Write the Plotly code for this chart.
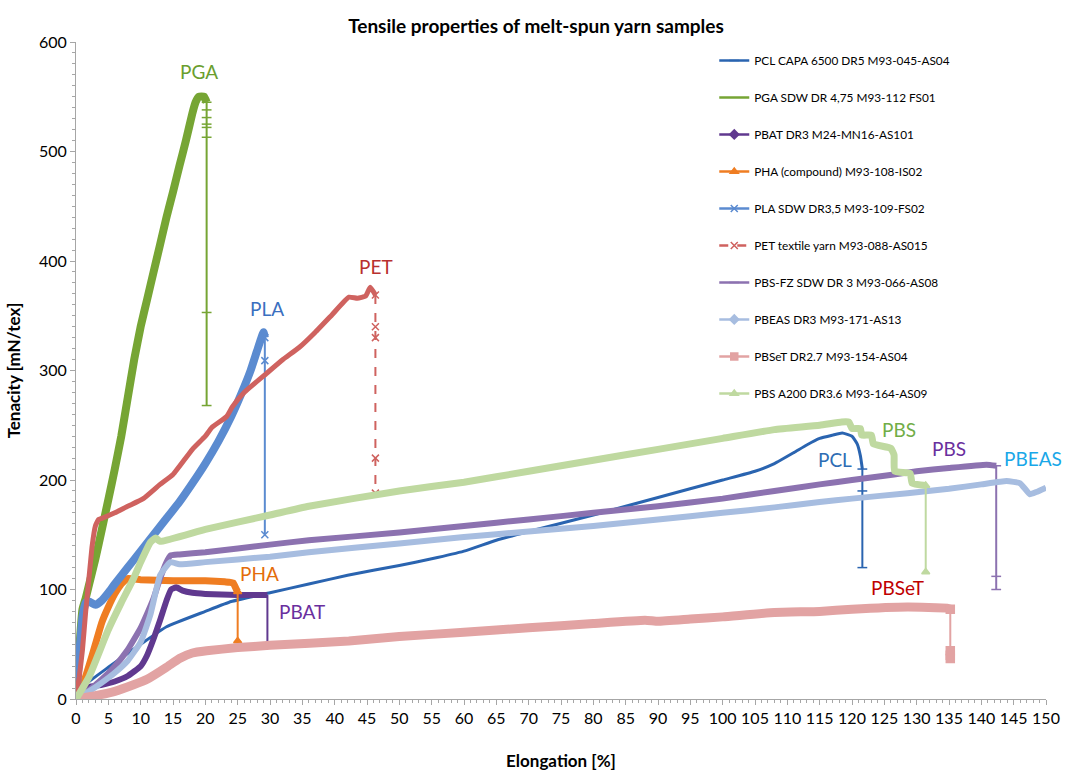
import plotly.graph_objects as go

# ---- stress-strain data (elongation %, tenacity mN/tex) ----
pcl_x = [0, 1, 5, 10, 14, 20, 24, 30, 36, 42, 50, 55, 60, 65, 70, 80, 90, 100, 105, 108, 111, 113, 115, 117, 118.5, 120, 120.8, 121.3, 121.6]
pcl_y = [0, 11, 29, 50, 66, 80, 89, 97, 105, 113, 122, 128, 135, 145, 153, 168, 184, 200, 208, 215, 225, 232, 238, 241, 243, 240, 233, 222, 210]
pcl_break_y = [210, 190, 120]

pga_x = [0, 0.5, 1, 1.5, 2, 3, 4, 5, 6, 7, 8, 9, 10, 11, 12, 13, 14, 15, 16, 17, 18, 18.5, 19, 19.8, 20.2]
pga_y = [0, 45, 82, 92, 104, 128, 155, 182, 210, 240, 275, 310, 340, 365, 390, 415, 440, 463, 487, 510, 535, 545, 550, 550, 545]
pga_break_y = [545, 538, 531, 525, 522, 513, 353, 268]

pbat_x = [0, 1, 2, 4, 6, 8, 10, 11, 12, 13, 14, 14.7, 15.5, 16.5, 18, 20, 25, 29.6]
pbat_y = [3, 9, 11, 13, 16, 21, 30, 40, 55, 72, 90, 100, 102, 99, 97, 96, 95, 95]
pbat_break_y = [95, 52]

pha_x = [0, 1, 2, 3, 4, 5, 6, 7, 7.5, 8, 10, 15, 20, 23, 24.3, 24.8, 25]
pha_y = [0, 12, 30, 50, 70, 84, 96, 105, 108, 110, 109, 108, 108, 107, 106, 100, 98]
pha_break_y = [98, 53]

pla_x = [0, 0.5, 1, 1.5, 2, 3, 4, 5, 6, 8, 10, 12, 14, 16, 18, 20, 22, 24, 26, 27, 28, 29, 29.2]
pla_y = [0, 40, 75, 88, 89, 86, 90, 97, 105, 120, 135, 150, 165, 180, 197, 215, 235, 258, 285, 300, 318, 335, 330]
pla_break_y = [330, 309, 150]

pet_x = [0, 0.5, 1, 1.5, 2, 2.5, 3, 3.5, 4, 6, 8, 10.4, 13, 15, 18, 20, 21, 23.3, 24.2, 26, 29.4, 32, 34.5, 37, 39.6, 42.2, 43.5, 44.8, 45.5, 46.3]
pet_y = [0, 20, 45, 80, 110, 140, 158, 164, 165, 170, 176, 183, 196, 205, 228, 240, 248, 258, 267, 280, 297, 310, 321, 335, 351, 367, 366, 368, 376, 369]
pet_break_y = [369, 340, 330, 220, 188]

pbsfz_x = [0, 2, 4, 6, 8, 10, 11, 12, 13, 14, 14.6, 16, 20, 30, 36, 50, 60, 70, 80, 90, 100, 108, 115, 120, 126.5, 130, 135, 140.8, 142.3]
pbsfz_y = [0, 8, 18, 30, 45, 65, 78, 92, 110, 125, 131, 132, 134, 141, 145, 152, 158, 164, 170, 176, 183, 190, 196, 200, 205, 208, 211, 214, 213]
pbsfz_break_y = [213, 112, 100]

pbeas_x = [0, 2, 4, 6, 8, 10, 11.5, 13, 14.6, 16, 20, 30, 36, 50, 60, 70, 80, 90, 100, 108, 115, 120, 128.6, 135, 140, 143.9, 146, 147.5, 148.5, 150]
pbeas_y = [0, 7, 15, 24, 35, 52, 77, 113, 125, 123, 125, 130, 134, 142, 148, 153, 158, 164, 170, 175, 180, 183, 188, 192, 196, 199, 197, 187, 189, 193]

pbset_x = [0, 3, 6, 8.9, 11, 14, 16, 18, 20.2, 25, 30, 42.2, 50, 60, 70, 80, 88, 90, 95, 100, 108, 115, 120, 128.6, 134.7, 135.2]
pbset_y = [0, 3, 7, 13, 18, 29, 37, 42, 44, 47, 49, 53, 57, 61, 65, 69, 72, 71, 73, 75, 79, 80, 82, 84, 83, 82]
pbset_break_y = [82, 44, 40, 37]

pbs_x = [0, 2, 4.9, 7, 8.9, 10, 11.5, 12.3, 13, 20, 30, 36, 50, 60, 70, 80, 90, 100, 108, 115, 118.4, 119.5, 120, 121.3, 121.5, 123, 123.3, 126, 126.5, 126.6, 129, 129.3, 131.4]
pbs_y = [0, 20, 62, 88, 110, 125, 143, 147, 144, 155, 168, 176, 190, 198, 208, 218, 228, 238, 246, 250, 253, 253, 247, 247, 241, 241, 233, 229, 223, 208, 206, 197, 195]
pbs_break_y = [195, 116]

# series: name, x, y, break-curve y values, color, curve width, legend symbol, break marker symbol, dash
series = [
    ("PCL CAPA 6500 DR5 M93-045-AS04", pcl_x, pcl_y, pcl_break_y, "#2a64b0", 3, "line-ew", "line-ew", "solid"),
    ("PGA SDW DR 4,75 M93-112 FS01", pga_x, pga_y, pga_break_y, "#76a534", 8, None, "line-ew", "solid"),
    ("PBAT DR3 M24-MN16-AS101", pbat_x, pbat_y, pbat_break_y, "#60398f", 6, "diamond", None, "solid"),
    ("PHA (compound) M93-108-IS02", pha_x, pha_y, pha_break_y, "#ef7d22", 7, "triangle-up", "triangle-up", "solid"),
    ("PLA SDW DR3,5 M93-109-FS02", pla_x, pla_y, pla_break_y, "#5b8bd0", 8, "x-thin", "x-thin", "solid"),
    ("PET textile yarn M93-088-AS015", pet_x, pet_y, pet_break_y, "#cf625f", 5, "x-thin", "x-thin", "dash"),
    ("PBS-FZ SDW DR 3 M93-066-AS08", pbsfz_x, pbsfz_y, pbsfz_break_y, "#8c72b0", 6, "line-ew", "line-ew", "solid"),
    ("PBEAS DR3 M93-171-AS13", pbeas_x, pbeas_y, None, "#a7bde0", 6, "diamond", None, "solid"),
    ("PBSeT DR2.7 M93-154-AS04", pbset_x, pbset_y, pbset_break_y, "#e2a3a3", 9, "square", "square", "solid"),
    ("PBS A200 DR3.6 M93-164-AS09", pbs_x, pbs_y, pbs_break_y, "#bfd9a0", 7, "triangle-up", "triangle-up", "solid"),
]

fig = go.Figure()

for i, (name, xs, ys, brk, color, width, lsym, bsym, dash) in enumerate(series):
    grp = f"g{i}"
    fig.add_trace(go.Scatter(
        x=xs, y=ys, mode="lines", line=dict(color=color, width=width, shape="spline", smoothing=0.4),
        legendgroup=grp, showlegend=False, hoverinfo="skip"))
    if brk:
        bx = [xs[-1]] * len(brk)
        fig.add_trace(go.Scatter(
            x=bx, y=brk,
            mode="lines+markers" if bsym else "lines",
            line=dict(color=color, width=2, dash=dash),
            marker=dict(symbol=bsym or "circle", size=7 if bsym != "square" else 8,
                        color=color, line=dict(color=color, width=1.5)),
            legendgroup=grp, showlegend=False, hoverinfo="skip"))
    # legend entry
    fig.add_trace(go.Scatter(
        x=[None], y=[None], name=name,
        mode="lines+markers" if lsym else "lines",
        line=dict(color=color, width=2.5, dash=dash),
        marker=dict(symbol=lsym or "circle", size=7, color=color, line=dict(color=color, width=1.5)),
        legendgroup=grp))

labels = [
    ("PGA", 19.0, 573, "#6a9e2e"),
    ("PLA", 29.5, 357, "#3a6fc0"),
    ("PET", 46.4, 395, "#b8302f"),
    ("PHA", 28.3, 115, "#e46c0a"),
    ("PBAT", 34.9, 80, "#6a2f9e"),
    ("PCL", 117.3, 219, "#2e6db4"),
    ("PBS", 127.3, 246, "#71ad47"),
    ("PBS", 135.0, 229, "#6a2f9e"),
    ("PBEAS", 148.0, 220, "#19a7e8"),
    ("PBSeT", 127.0, 102, "#c00000"),
]
for txt, lx, ly, c in labels:
    fig.add_annotation(x=lx, y=ly, text=txt, showarrow=False,
                       font=dict(family="Lato", size=19, color=c))

axis_common = dict(
    showgrid=False, zeroline=False, showline=True, linecolor="#a6a6a6", linewidth=1,
    ticks="outside", ticklen=5, tickcolor="#a6a6a6",
    tickfont=dict(family="Lato", size=16, color="#000"),
)

fig.update_layout(
    width=1072, height=779,
    margin=dict(l=76, r=19, t=42, b=74),
    paper_bgcolor="white", plot_bgcolor="white",
    title=dict(text="<b>Tensile properties of melt-spun yarn samples</b>", x=0.5, xanchor="center",
               y=0.975, yanchor="top", font=dict(family="Lato", size=19, color="#000")),
    xaxis=dict(range=[0, 150], dtick=5, tick0=0,
               minor=dict(dtick=1, ticks="outside", ticklen=3, tickcolor="#a6a6a6"),
               title=dict(text="<b>Elongation [%]</b>", font=dict(family="Lato", size=17, color="#000"), standoff=28),
               **axis_common),
    yaxis=dict(range=[0, 600], dtick=100, tick0=0,
               minor=dict(dtick=10, ticks="outside", ticklen=3, tickcolor="#a6a6a6"),
               title=dict(text="<b>Tenacity [mN/tex]</b>", font=dict(family="Lato", size=17, color="#000"), standoff=14),
               **axis_common),
    legend=dict(x=0.658, y=0.994, xanchor="left", yanchor="top", bgcolor="rgba(0,0,0,0)",
                font=dict(family="Lato", size=11.8, color="#000"), tracegroupgap=18.0,
                itemwidth=30),
    showlegend=True,
)

fig.write_html("out.html")
